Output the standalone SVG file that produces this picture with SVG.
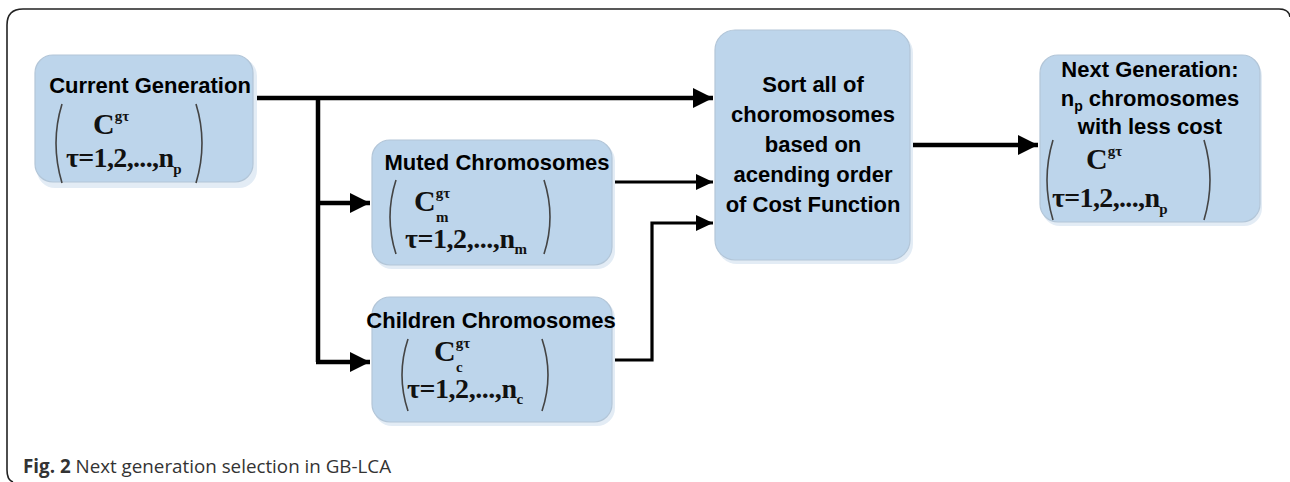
<svg xmlns="http://www.w3.org/2000/svg" width="1290" height="482" viewBox="0 0 1290 482">
<style>
.box{fill:#bdd5eb;stroke:#b3c6d8;stroke-width:1.2}
.shadow{fill:#e3ecf5}
.lbl{font-family:"Liberation Sans",Arial,sans-serif;font-weight:bold;font-size:22px;fill:#000;text-anchor:middle}
.math{font-family:"Liberation Serif","Times New Roman",serif;font-weight:bold;font-size:28px;fill:#111}
.bigc{font-size:30px}
.sup{font-size:15px}
.paren{fill:none;stroke:#444;stroke-width:1.6}
.con{fill:none;stroke:#000;stroke-linejoin:miter}
.thick{stroke-width:4.5}
.thin{stroke-width:3.2}
.cap{font-family:"Open Sans","Liberation Sans",sans-serif;font-size:18.8px;fill:#333}
</style>
<defs>
<marker id="ah" markerUnits="userSpaceOnUse" markerWidth="22" markerHeight="22" refX="20" refY="10" orient="auto" viewBox="0 0 22 22">
<path d="M0,0 L20,10 L0,20 z" fill="#000"/>
</marker>
<marker id="ahs" markerUnits="userSpaceOnUse" markerWidth="20" markerHeight="20" refX="17" refY="8" orient="auto" viewBox="0 0 20 20">
<path d="M0,0 L17,8 L0,16 z" fill="#000"/>
</marker>
</defs>
<rect width="1290" height="482" fill="#fff"/>
<path d="M1290,17 Q1289,9 1279,9 L23,9 Q7,9 7,25 L7,470 Q7,480 13,482" fill="none" stroke="#222" stroke-width="1.6"/>

<g id="connectors">
<path class="con thick" d="M255,98 L713,98" marker-end="url(#ah)"/>
<path class="con thick" d="M318,98 L318,362"/>
<path class="con thick" d="M316,203 L370,203" marker-end="url(#ah)"/>
<path class="con thick" d="M316,362 L370,362" marker-end="url(#ah)"/>
<path class="con thin" d="M612,182 L713,182" marker-end="url(#ahs)"/>
<path class="con thin" d="M612,360 L652,360 L652,223 L713,223" marker-end="url(#ahs)"/>
<path class="con thick" d="M910,145 L1038,145" marker-end="url(#ah)"/>
</g>

<g id="current">
<rect class="shadow" x="37" y="58" width="220" height="130" rx="18"/>
<rect class="box" x="35" y="55" width="218" height="127" rx="18"/>
<text class="lbl" x="150" y="93">Current Generation</text>
<path class="paren" d="M62,104 Q50,143 62,183"/>
<path class="paren" d="M196,104 Q208,143 196,183"/>
<text class="math bigc" x="93" y="134">C<tspan class="sup" dy="-13">gτ</tspan></text>
<text class="math" x="66" y="167"><tspan textLength="108">τ=1,2,...,n</tspan><tspan class="sup" dy="7">p</tspan></text>
</g>

<g id="muted">
<rect class="shadow" x="374" y="143" width="241" height="126" rx="18"/>
<rect class="box" x="372" y="140" width="240" height="125" rx="18"/>
<text class="lbl" x="497" y="170">Muted Chromosomes</text>
<path class="paren" d="M396,180 Q384,217 396,254"/>
<path class="paren" d="M544,180 Q556,217 544,254"/>
<text class="math bigc" x="414" y="211">C<tspan class="sup" dy="-13">gτ</tspan></text>
<text class="math sup" x="436" y="222">m</text>
<text class="math" x="405" y="248"><tspan textLength="110">τ=1,2,...,n</tspan><tspan class="sup" dy="6">m</tspan></text>
</g>

<g id="children">
<rect class="shadow" x="374" y="300" width="241" height="126" rx="18"/>
<rect class="box" x="372" y="297" width="240" height="125" rx="18"/>
<text class="lbl" x="491" y="328">Children Chromosomes</text>
<path class="paren" d="M408,339 Q396,375 408,411"/>
<path class="paren" d="M542,339 Q554,375 542,411"/>
<text class="math bigc" x="434" y="361">C<tspan class="sup" dy="-13">gτ</tspan></text>
<text class="math sup" x="456" y="372">c</text>
<text class="math" x="407" y="398"><tspan textLength="110">τ=1,2,...,n</tspan><tspan class="sup" dy="6">c</tspan></text>
</g>

<g id="sort">
<rect class="shadow" x="717" y="33" width="196" height="231" rx="20"/>
<rect class="box" x="715" y="30" width="195" height="230" rx="20"/>
<text class="lbl" x="813" y="92">Sort all of</text>
<text class="lbl" x="813" y="122">choromosomes</text>
<text class="lbl" x="813" y="152">based on</text>
<text class="lbl" x="813" y="182">acending order</text>
<text class="lbl" x="813" y="212">of Cost Function</text>
</g>

<g id="next">
<rect class="shadow" x="1042" y="58" width="220" height="168" rx="18"/>
<rect class="box" x="1040" y="55" width="220" height="167" rx="18"/>
<text class="lbl" x="1150" y="77">Next Generation:</text>
<text class="lbl" x="1150" y="106">n<tspan font-size="14" dy="5">p</tspan><tspan dy="-5"> chromosomes</tspan></text>
<text class="lbl" x="1150" y="134">with less cost</text>
<path class="paren" d="M1053,140 Q1041,180 1053,220"/>
<path class="paren" d="M1204,140 Q1216,180 1204,220"/>
<text class="math bigc" x="1086" y="169">C<tspan class="sup" dy="-13">gτ</tspan></text>
<text class="math" x="1052" y="207"><tspan textLength="108">τ=1,2,...,n</tspan><tspan class="sup" dy="7">p</tspan></text>
</g>

<text class="cap" x="23" y="473"><tspan font-weight="bold">Fig. 2</tspan> Next generation selection in GB-LCA</text>
</svg>
